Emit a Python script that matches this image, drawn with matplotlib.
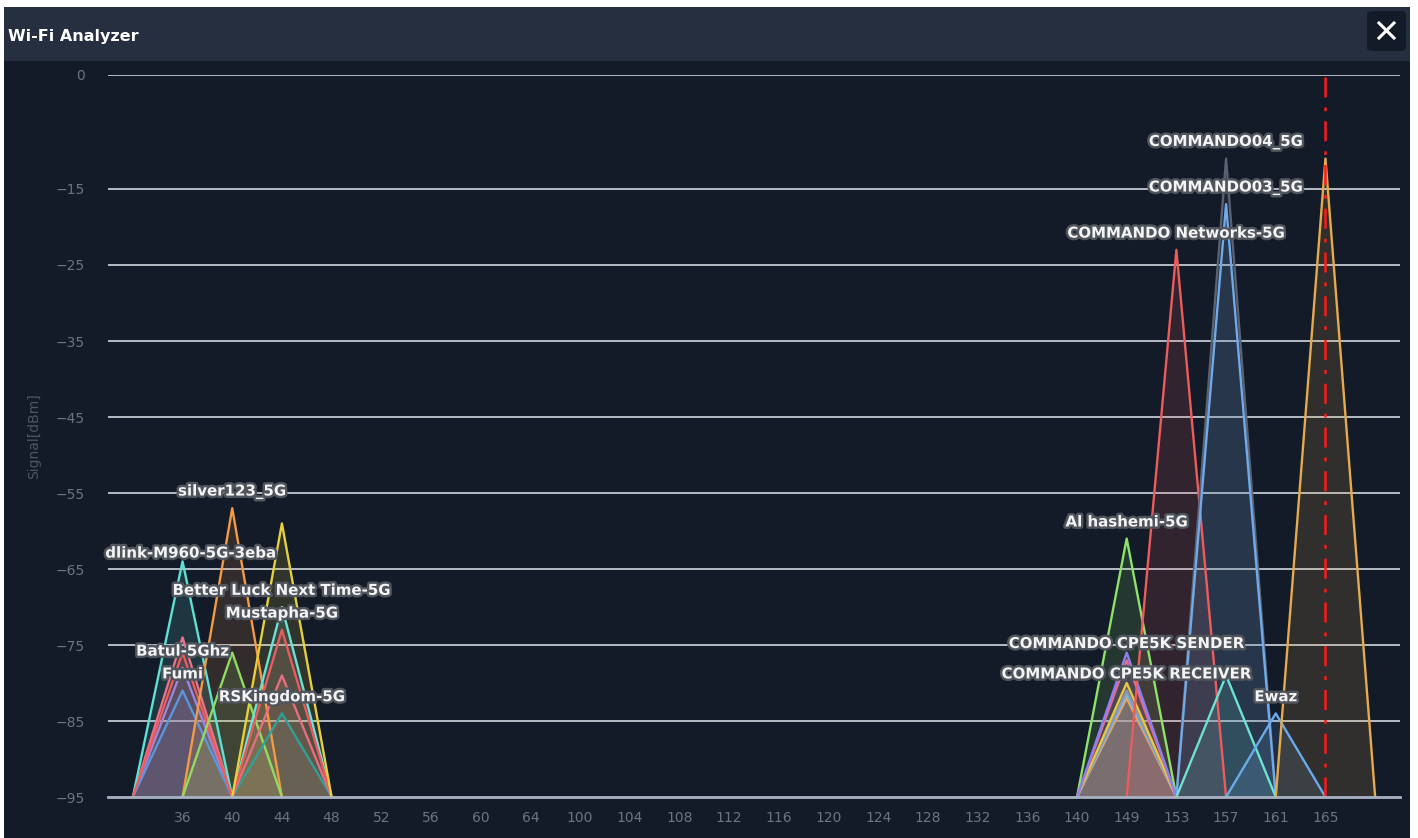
import matplotlib
matplotlib.use('Agg')
import matplotlib.pyplot as plt
import matplotlib.patheffects as pe
from matplotlib.patches import Rectangle, FancyBboxPatch
from matplotlib.lines import Line2D

# channel axis, with an empty slot at each end
channels = ['', '36', '40', '44', '48', '52', '56', '60', '64', '100', '104', '108',
            '112', '116', '120', '124', '128', '132', '136', '140', '149', '153',
            '157', '161', '165', '']
y_ticks = [0, -15, -25, -35, -45, -55, -65, -75, -85, -95]

# networks: ssid, channel, signal (dBm), colour, label shown
ssids = ['', 'Batul-5Ghz', 'dlink-M960-5G-3eba', 'Fumi', '',
         'silver123_5G', '',
         'RSKingdom-5G', '', 'Better Luck Next Time-5G', 'Mustapha-5G', '',
         'Al hashemi-5G', '', '', 'COMMANDO CPE5K RECEIVER', '',
         'COMMANDO CPE5K SENDER', '',
         'COMMANDO Networks-5G',
         'COMMANDO04_5G', 'COMMANDO03_5G', '',
         'Ewaz', '']
net_channels = ['36', '36', '36', '36', '36',
                '40', '40',
                '44', '44', '44', '44', '44',
                '149', '149', '149', '149', '149', '149', '149',
                '153',
                '157', '157', '157',
                '161', '165']
signals = [-74, -78, -64, -81, -76,
           -57, -76,
           -84, -79, -70, -73, -59,
           -61, -82, -81.5, -81, -80, -77, -76,
           -23,
           -11, -17, -79,
           -84, -11]
colors = ['#e8728a', '#9a86e0', '#5fe0d4', '#5d95dc', '#ee5c5c',
          '#f29a45', '#90dc60',
          '#2f9f98', '#e46f7f', '#6de0d6', '#ec5a60', '#e5cf3c',
          '#8ee26a', '#f0a352', '#7fb2e4', '#8a98ac', '#e8c840', '#e86c8a', '#8a80f0',
          '#ec5c5c',
          '#5a6170', '#70aae8', '#6ee2d2',
          '#6aaaea', '#e6aa4e']
current_channel = '165'

BG = '#131b28'
BAR = '#262f3f'
W, H = 1418, 838

fig = plt.figure(figsize=(W / 100, H / 100), dpi=100, facecolor='white')


def fx(px):
    return px / W


def fy(py):
    return 1 - py / H


# panel body and header, kept behind the axes
fig.patches.append(Rectangle((fx(4), 0), fx(1410) - fx(4), fy(7), transform=fig.transFigure,
                             facecolor=BG, edgecolor='none', zorder=-2))
fig.patches.append(Rectangle((fx(4), fy(61)), fx(1410) - fx(4), fy(7) - fy(61),
                             transform=fig.transFigure, facecolor=BAR, edgecolor='none', zorder=-1))
fig.text(fx(8), fy(37), 'Wi-Fi Analyzer', color='white', fontsize=11.5, fontweight='bold',
         va='center', ha='left')
fig.patches.append(FancyBboxPatch((fx(1367), fy(51)), fx(1406) - fx(1367), fy(11) - fy(51),
                                  boxstyle='round,pad=0,rounding_size=0.004',
                                  transform=fig.transFigure, facecolor=BG, edgecolor='none'))
for xs, ys in [((1379, 1394), (23, 38)), ((1379, 1394), (38, 23))]:
    fig.lines.append(Line2D([fx(xs[0]), fx(xs[1])], [fy(ys[0]), fy(ys[1])],
                            transform=fig.transFigure, color='white', lw=2.2))

ax = fig.add_axes([fx(108), fy(797), fx(1400) - fx(108), fy(75) - fy(797)])
ax.set_facecolor('none')
ax.set_xlim(-0.5, len(channels) - 0.5)
ax.set_ylim(-95, 0)

for v in y_ticks[:-1]:
    ax.axhline(v, color='#c3c8d0', lw=1.3, zorder=1)
ax.axhline(-95, color='#a8b2c4', lw=2, zorder=6, clip_on=False)

idx = {c: i for i, c in enumerate(channels)}
for ssid, ch, sig, col in zip(ssids, net_channels, signals, colors):
    c = idx[ch]
    xs = [c - 1, c, c + 1]
    ys = [-95, sig, -95]
    ax.fill_between(xs, ys, -95, color=col, alpha=0.14, lw=0, zorder=2)
    ax.plot(xs, ys, color=col, lw=1.7, zorder=3)

ax.axvline(idx[current_channel], ymax=1, color='#ff1a1a', lw=1.8, ls=(0, (8, 4, 1.5, 4)), zorder=5)

halo = [pe.withStroke(linewidth=3.5, foreground='#50555d')]
for ssid, ch, sig in zip(ssids, net_channels, signals):
    if not ssid:
        continue
    # the dlink label sits lower and nudged right, clear of silver123_5G
    dx, dy = (6, 6) if ssid.startswith('dlink') else (0, 12)
    ax.annotate(ssid, (idx[ch], sig), xytext=(dx, dy), textcoords='offset points',
                ha='center', va='center', color='#f4f4f4', fontsize=10.8, fontweight='bold',
                path_effects=halo, zorder=7)

ax.set_xticks(range(len(channels)))
ax.set_xticklabels(channels)
ax.set_yticks(y_ticks)
ax.set_yticklabels([str(v).replace('-', '\u2212') for v in y_ticks])
ax.tick_params(axis='both', length=0, colors='#6c7482', labelsize=10)
ax.tick_params(axis='y', pad=17)
ax.tick_params(axis='x', pad=10)
for s in ax.spines.values():
    s.set_visible(False)
ax.set_ylabel('Signal[dBm]', color='#4d5663', fontsize=10, labelpad=10)

fig.savefig('out.png', dpi=100, facecolor=fig.get_facecolor())
